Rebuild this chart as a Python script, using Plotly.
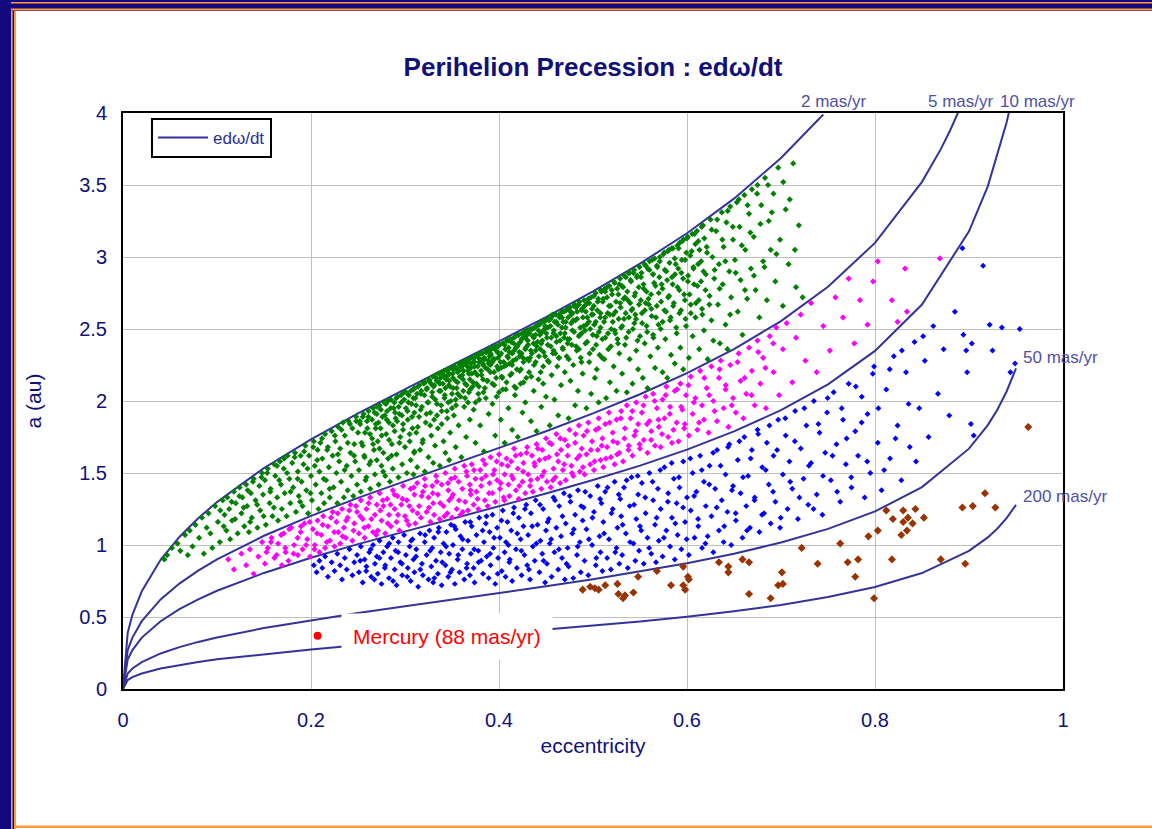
import plotly.graph_objects as go

# ---------------------------------------------------------------------------
# Contours of constant e*dω/dt (mas/yr): eccentricity vs semi-major axis (au)
# ---------------------------------------------------------------------------
e_2mas = [0, 0.005, 0.01, 0.02, 0.04, 0.06, 0.08, 0.1, 0.15, 0.2, 0.25, 0.3, 0.35, 0.4,
          0.45, 0.5, 0.55, 0.6, 0.65, 0.7, 0.745]
a_2mas = [0, 0.390, 0.515, 0.679, 0.897, 1.056, 1.186, 1.298, 1.535, 1.734, 1.914, 2.084,
          2.249, 2.414, 2.583, 2.762, 2.954, 3.165, 3.405, 3.687, 3.99]

e_5mas = [0, 0.005, 0.01, 0.02, 0.04, 0.06, 0.08, 0.1, 0.15, 0.2, 0.25, 0.3, 0.35, 0.4,
          0.45, 0.5, 0.55, 0.6, 0.65, 0.7, 0.75, 0.8, 0.85, 0.87, 0.88, 0.89]
a_5mas = [0, 0.270, 0.357, 0.471, 0.622, 0.732, 0.822, 0.900, 1.064, 1.202, 1.327, 1.444,
          1.558, 1.673, 1.790, 1.914, 2.047, 2.194, 2.360, 2.555, 2.793, 3.098, 3.522,
          3.749, 3.880, 4.027]

e_10mas = [0, 0.005, 0.01, 0.02, 0.04, 0.06, 0.08, 0.1, 0.15, 0.2, 0.25, 0.3, 0.35, 0.4,
           0.45, 0.5, 0.55, 0.6, 0.65, 0.7, 0.75, 0.8, 0.85, 0.9, 0.92, 0.94, 0.945]
a_10mas = [0, 0.205, 0.270, 0.357, 0.471, 0.554, 0.623, 0.682, 0.806, 0.911, 1.006, 1.094,
           1.181, 1.268, 1.357, 1.451, 1.551, 1.662, 1.789, 1.936, 2.116, 2.348, 2.670,
           3.178, 3.491, 3.934, 4.078]

e_50mas = [0, 0.005, 0.01, 0.02, 0.04, 0.06, 0.08, 0.1, 0.15, 0.2, 0.25, 0.3, 0.35, 0.4,
           0.45, 0.5, 0.55, 0.6, 0.65, 0.7, 0.75, 0.8, 0.85, 0.9, 0.92, 0.93, 0.94, 0.95]
a_50mas = [0, 0.108, 0.142, 0.187, 0.247, 0.291, 0.327, 0.358, 0.423, 0.478, 0.528, 0.575,
           0.620, 0.666, 0.713, 0.762, 0.815, 0.873, 0.939, 1.017, 1.112, 1.233, 1.402,
           1.669, 1.833, 1.938, 2.066, 2.227]

e_200mas = [0, 0.005, 0.01, 0.02, 0.04, 0.06, 0.08, 0.1, 0.15, 0.2, 0.25, 0.3, 0.35, 0.4,
            0.45, 0.5, 0.55, 0.6, 0.65, 0.7, 0.75, 0.8, 0.85, 0.9, 0.92, 0.93, 0.94, 0.95]
a_200mas = [0, 0.062, 0.082, 0.108, 0.142, 0.167, 0.188, 0.206, 0.243, 0.275, 0.303, 0.330,
            0.356, 0.383, 0.409, 0.438, 0.468, 0.502, 0.540, 0.584, 0.639, 0.708, 0.805,
            0.959, 1.053, 1.113, 1.187, 1.279]

contour_names = ["2 mas/yr", "5 mas/yr", "10 mas/yr", "50 mas/yr", "200 mas/yr"]

# ---------------------------------------------------------------------------
# Asteroids (e, a) grouped by precession rate band
# ---------------------------------------------------------------------------
green_2_5 = [
    (0.044, 0.90), (0.047, 0.93),
    (0.052, 0.98), (0.058, 1.01), (0.061, 0.96), (0.066, 1.07), (0.069, 0.93),
    (0.071, 1.10), (0.074, 0.99), (0.077, 1.14), (0.081, 1.05), (0.084, 1.19), (0.086, 0.94), (0.089, 1.12),
    (0.091, 1.22), (0.093, 1.08), (0.095, 0.98), (0.098, 1.27), (0.101, 1.16), (0.103, 1.02), (0.106, 1.31),
    (0.108, 1.21), (0.110, 1.10),
    (0.111, 1.33), (0.113, 1.25), (0.114, 1.04), (0.116, 1.17), (0.118, 1.37), (0.120, 1.29), (0.122, 1.08),
    (0.124, 1.40), (0.126, 1.22), (0.127, 1.33), (0.129, 1.13),
    (0.131, 1.42), (0.132, 1.27), (0.134, 1.09), (0.136, 1.36), (0.137, 1.19), (0.139, 1.46), (0.141, 1.31),
    (0.143, 1.12), (0.145, 1.41), (0.146, 1.24), (0.148, 1.50), (0.149, 1.35),
    (0.151, 1.45), (0.152, 1.14), (0.154, 1.53), (0.156, 1.29), (0.157, 1.39), (0.159, 1.20), (0.161, 1.56),
    (0.162, 1.48), (0.164, 1.33), (0.165, 1.17), (0.167, 1.58), (0.168, 1.42), (0.169, 1.25),
    (0.171, 1.53), (0.172, 1.36), (0.174, 1.20), (0.175, 1.62), (0.177, 1.46), (0.178, 1.29), (0.180, 1.57),
    (0.181, 1.40), (0.183, 1.64), (0.184, 1.23), (0.186, 1.51), (0.187, 1.34), (0.189, 1.62), (0.190, 1.44),
    (0.191, 1.27), (0.192, 1.56), (0.194, 1.69), (0.195, 1.38), (0.197, 1.22), (0.198, 1.62), (0.200, 1.48),
    (0.201, 1.31), (0.203, 1.72), (0.204, 1.55), (0.205, 1.42), (0.207, 1.66), (0.208, 1.25), (0.209, 1.51),
    (0.210, 1.71),
    (0.211, 1.36), (0.212, 1.60), (0.214, 1.29), (0.215, 1.77), (0.216, 1.45), (0.218, 1.68), (0.219, 1.54),
    (0.220, 1.33), (0.222, 1.79), (0.223, 1.62), (0.224, 1.40), (0.226, 1.72), (0.227, 1.50), (0.228, 1.29),
    (0.229, 1.82), (0.230, 1.58),
    (0.231, 1.67), (0.232, 1.44), (0.234, 1.85), (0.235, 1.33), (0.236, 1.76), (0.238, 1.55), (0.239, 1.38),
    (0.240, 1.86), (0.242, 1.64), (0.243, 1.48), (0.244, 1.81), (0.245, 1.34), (0.246, 1.70), (0.247, 1.58),
    (0.248, 1.89), (0.249, 1.42), (0.250, 1.78),
    (0.251, 1.52), (0.252, 1.86), (0.253, 1.37), (0.255, 1.69), (0.256, 1.91), (0.257, 1.61), (0.258, 1.45),
    (0.260, 1.81), (0.261, 1.89), (0.262, 1.56), (0.263, 1.39), (0.265, 1.74), (0.266, 1.95), (0.267, 1.66),
    (0.268, 1.49), (0.269, 1.84), (0.270, 1.59), (0.270, 1.91),
    (0.271, 1.72), (0.272, 1.42), (0.273, 1.97), (0.274, 1.81), (0.275, 1.55), (0.276, 1.89), (0.277, 1.64),
    (0.278, 1.99), (0.279, 1.48), (0.280, 1.77), (0.281, 1.93), (0.282, 1.60), (0.283, 1.85), (0.284, 1.44),
    (0.285, 2.01), (0.286, 1.70), (0.287, 1.53), (0.288, 1.95), (0.289, 1.79), (0.290, 1.88),
    (0.291, 1.63), (0.292, 2.03), (0.293, 1.47), (0.294, 1.91), (0.295, 1.75), (0.296, 1.99), (0.297, 1.56),
    (0.298, 1.84), (0.299, 2.06), (0.300, 1.68), (0.301, 1.95), (0.302, 1.50), (0.303, 1.87), (0.304, 2.04),
    (0.305, 1.72), (0.306, 1.59), (0.307, 1.98), (0.308, 1.81), (0.309, 2.08), (0.310, 1.65), (0.310, 1.92),
    (0.309, 1.49),
    (0.311, 2.02), (0.312, 1.78), (0.313, 1.54), (0.314, 2.10), (0.315, 1.89), (0.316, 1.66), (0.317, 2.05),
    (0.318, 1.96), (0.319, 1.73), (0.320, 2.12), (0.321, 1.51), (0.322, 1.85), (0.323, 2.08), (0.324, 1.99),
    (0.325, 1.61), (0.326, 2.14), (0.327, 1.92), (0.328, 1.76), (0.329, 2.03), (0.330, 1.57), (0.331, 2.11),
    (0.331, 1.87), (0.332, 1.69), (0.333, 2.16),
    (0.334, 1.98), (0.335, 1.81), (0.336, 2.13), (0.337, 1.55), (0.338, 2.07), (0.339, 1.93), (0.340, 2.19),
    (0.341, 1.72), (0.342, 2.02), (0.343, 1.64), (0.344, 2.15), (0.345, 1.88), (0.345, 2.21), (0.346, 1.99),
    (0.347, 1.59), (0.348, 2.10), (0.348, 1.78), (0.349, 2.23), (0.350, 1.95), (0.350, 2.05), (0.341, 2.17),
    (0.343, 2.09), (0.346, 2.18), (0.337, 2.12), (0.339, 1.84), (0.347, 2.14),
    (0.351, 2.16), (0.352, 1.90), (0.353, 2.24), (0.354, 1.68), (0.355, 2.09), (0.356, 2.20), (0.357, 1.83),
    (0.358, 2.25), (0.359, 2.03), (0.360, 1.61), (0.361, 2.18), (0.362, 2.25), (0.363, 1.96), (0.364, 2.12),
    (0.365, 1.75), (0.366, 2.27), (0.367, 2.21), (0.368, 2.06), (0.369, 1.87), (0.370, 2.26), (0.356, 2.13),
    (0.359, 2.22), (0.362, 2.07), (0.364, 2.26), (0.367, 1.99), (0.352, 2.22), (0.369, 2.15), (0.354, 2.01),
    (0.371, 2.19), (0.372, 2.30), (0.373, 1.94), (0.374, 2.24), (0.375, 1.71), (0.376, 2.12), (0.377, 2.31),
    (0.378, 2.05), (0.379, 2.27), (0.380, 1.83), (0.381, 2.21), (0.382, 2.33), (0.383, 2.15), (0.384, 1.65),
    (0.385, 2.29), (0.386, 2.02), (0.387, 2.34), (0.388, 2.22), (0.389, 1.91), (0.390, 2.31), (0.372, 2.10),
    (0.374, 2.30), (0.377, 2.18), (0.379, 2.01), (0.381, 2.28), (0.383, 2.25), (0.385, 2.09), (0.386, 2.34),
    (0.388, 2.14), (0.389, 2.26),
    (0.391, 2.20), (0.392, 2.36), (0.393, 1.98), (0.394, 2.29), (0.395, 2.11), (0.396, 1.76), (0.397, 2.35),
    (0.398, 2.24), (0.399, 2.38), (0.400, 2.06), (0.401, 2.32), (0.402, 1.87), (0.403, 2.17), (0.404, 2.40),
    (0.405, 2.27), (0.406, 1.71), (0.407, 2.36), (0.408, 2.13), (0.409, 2.31), (0.410, 2.42), (0.391, 2.33),
    (0.393, 2.27), (0.395, 2.37), (0.397, 2.16), (0.399, 2.30), (0.402, 2.23), (0.404, 2.08), (0.406, 2.39),
    (0.408, 2.25), (0.410, 1.95),
    (0.411, 2.34), (0.412, 2.18), (0.413, 2.41), (0.414, 1.80), (0.415, 2.28), (0.416, 2.44), (0.417, 2.04),
    (0.418, 2.37), (0.419, 2.22), (0.420, 1.75), (0.421, 2.46), (0.422, 2.31), (0.423, 2.12), (0.424, 2.43),
    (0.425, 1.92), (0.426, 2.27), (0.427, 2.48), (0.428, 2.36), (0.429, 2.16), (0.430, 2.46), (0.412, 2.43),
    (0.414, 2.25), (0.416, 2.35), (0.418, 2.09), (0.420, 2.39), (0.422, 2.21), (0.424, 2.33), (0.426, 2.44),
    (0.428, 1.99), (0.430, 2.29),
    (0.431, 2.39), (0.432, 2.20), (0.433, 2.50), (0.434, 1.86), (0.435, 2.33), (0.436, 2.45), (0.437, 2.07),
    (0.438, 2.51), (0.439, 2.27), (0.440, 1.79), (0.441, 2.41), (0.442, 2.15), (0.443, 2.53), (0.444, 2.36),
    (0.445, 1.96), (0.446, 2.48), (0.447, 2.24), (0.448, 2.55), (0.449, 2.31), (0.450, 2.03), (0.433, 2.30),
    (0.437, 2.44), (0.439, 2.35), (0.442, 2.49), (0.445, 2.40), (0.447, 2.12), (0.449, 2.52), (0.435, 2.50),
    (0.451, 2.44), (0.452, 2.28), (0.453, 2.56), (0.454, 1.83), (0.455, 2.38), (0.456, 2.18), (0.457, 2.60),
    (0.458, 2.47), (0.459, 2.01), (0.460, 2.33), (0.461, 2.55), (0.462, 2.24), (0.463, 1.90), (0.464, 2.60),
    (0.465, 2.42), (0.466, 2.11), (0.467, 2.51), (0.468, 2.36), (0.469, 2.62), (0.470, 2.20), (0.452, 2.51),
    (0.455, 2.57), (0.458, 2.35), (0.461, 2.45), (0.464, 2.30), (0.467, 2.58), (0.470, 2.47),
    (0.471, 2.55), (0.472, 2.31), (0.473, 2.64), (0.474, 1.88), (0.475, 2.43), (0.476, 2.14), (0.477, 2.60),
    (0.478, 2.49), (0.479, 2.25), (0.480, 2.66), (0.481, 1.97), (0.482, 2.38), (0.483, 2.57), (0.484, 2.07),
    (0.485, 2.67), (0.486, 2.46), (0.487, 2.30), (0.488, 2.63), (0.489, 2.19), (0.490, 2.52), (0.473, 2.40),
    (0.476, 2.62), (0.479, 2.56), (0.482, 2.65), (0.485, 2.36), (0.488, 2.47),
    (0.491, 2.66), (0.492, 2.40), (0.493, 1.95), (0.494, 2.58), (0.495, 2.71), (0.496, 2.27), (0.497, 2.50),
    (0.498, 2.05), (0.499, 2.64), (0.500, 2.36), (0.501, 2.73), (0.502, 2.16), (0.503, 2.55), (0.504, 2.45),
    (0.505, 2.69), (0.506, 1.99), (0.507, 2.32), (0.508, 2.61), (0.509, 2.76), (0.510, 2.43), (0.493, 2.53),
    (0.496, 2.68), (0.500, 2.60), (0.504, 2.22), (0.508, 2.51),
    (0.511, 2.71), (0.512, 2.29), (0.513, 2.58), (0.514, 2.02), (0.515, 2.79), (0.516, 2.47), (0.517, 2.66),
    (0.518, 2.13), (0.519, 2.38), (0.520, 2.77), (0.521, 2.55), (0.522, 2.24), (0.523, 2.82), (0.524, 2.62),
    (0.525, 2.07), (0.526, 2.43), (0.527, 2.74), (0.528, 2.33), (0.529, 2.68), (0.530, 2.51), (0.513, 2.76),
    (0.518, 2.60), (0.523, 2.49), (0.528, 2.81),
    (0.531, 2.19), (0.532, 2.79), (0.533, 2.57), (0.534, 2.39), (0.535, 2.86), (0.536, 2.06), (0.537, 2.70),
    (0.538, 2.48), (0.539, 2.29), (0.540, 2.84), (0.541, 2.63), (0.542, 2.12), (0.543, 2.89), (0.544, 2.54),
    (0.545, 2.75), (0.546, 2.35), (0.547, 2.87), (0.548, 2.22), (0.549, 2.67), (0.550, 2.45), (0.534, 2.72),
    (0.539, 2.89), (0.545, 2.60),
    (0.551, 2.86), (0.552, 2.61), (0.553, 2.16), (0.554, 2.78), (0.555, 2.40), (0.556, 2.94), (0.557, 2.52),
    (0.558, 2.09), (0.559, 2.71), (0.560, 2.91), (0.561, 2.31), (0.562, 2.64), (0.563, 2.98), (0.564, 2.46),
    (0.565, 2.82), (0.566, 2.23), (0.567, 2.58), (0.568, 2.94), (0.569, 2.37), (0.570, 2.75), (0.556, 2.68),
    (0.564, 2.88),
    (0.571, 2.97), (0.572, 2.50), (0.573, 2.81), (0.574, 2.20), (0.575, 3.02), (0.576, 2.63), (0.577, 2.43),
    (0.578, 2.90), (0.579, 2.16), (0.580, 2.72), (0.581, 3.05), (0.582, 2.56), (0.583, 2.32), (0.584, 2.86),
    (0.585, 3.06), (0.586, 2.68), (0.587, 2.26), (0.588, 2.95), (0.589, 2.47), (0.590, 2.79),
    (0.591, 3.06), (0.592, 2.61), (0.593, 2.37), (0.594, 2.89), (0.595, 3.11), (0.596, 2.22), (0.597, 2.74),
    (0.598, 2.98), (0.599, 2.52), (0.600, 3.13), (0.601, 2.83), (0.602, 2.30), (0.604, 2.67), (0.605, 3.04),
    (0.606, 2.45), (0.607, 2.92), (0.608, 3.16), (0.609, 2.58),
    (0.611, 2.80), (0.612, 3.11), (0.613, 2.36), (0.615, 2.97), (0.616, 2.64), (0.617, 3.22), (0.618, 2.49),
    (0.620, 2.88), (0.621, 3.07), (0.622, 2.29), (0.624, 2.73), (0.625, 3.26), (0.626, 2.56), (0.627, 3.00),
    (0.628, 2.42), (0.629, 2.85),
    (0.631, 3.18), (0.633, 2.67), (0.634, 2.95), (0.635, 2.40), (0.637, 3.31), (0.638, 2.81), (0.639, 3.07),
    (0.641, 2.53), (0.642, 3.24), (0.643, 2.36), (0.645, 2.90), (0.646, 3.35), (0.647, 2.72), (0.649, 3.12),
    (0.651, 2.98), (0.653, 3.38), (0.654, 2.62), (0.656, 3.21), (0.657, 2.84), (0.659, 2.46), (0.661, 3.43),
    (0.662, 3.05), (0.664, 2.71), (0.666, 3.30), (0.668, 2.92), (0.669, 3.47),
    (0.671, 3.14), (0.673, 2.77), (0.675, 3.50), (0.677, 2.58), (0.679, 3.36), (0.681, 2.97), (0.683, 3.55),
    (0.685, 2.70), (0.687, 3.25), (0.689, 3.05),
    (0.692, 3.44), (0.694, 2.83), (0.697, 3.62), (0.699, 3.12), (0.702, 2.66), (0.705, 3.33), (0.708, 2.95),
    (0.713, 3.65), (0.716, 2.79), (0.719, 3.22), (0.723, 2.72),
    # second catalogue pass
    (0.1035, 1.24), (0.1072, 1.13), (0.1156, 1.30), (0.1193, 1.18), (0.1238, 1.34), (0.1284, 1.26),
    (0.1327, 1.38), (0.1353, 1.16), (0.1382, 1.44), (0.1427, 1.28), (0.1473, 1.47), (0.1496, 1.20),
    (0.1534, 1.50), (0.1567, 1.37), (0.1605, 1.26), (0.1638, 1.55), (0.1662, 1.45), (0.1714, 1.60),
    (0.1745, 1.50), (0.1783, 1.37), (0.1826, 1.61), (0.1858, 1.46), (0.1884, 1.30), (0.1927, 1.65),
    (0.1963, 1.53), (0.1994, 1.36), (0.2023, 1.68), (0.2066, 1.59), (0.2117, 1.74), (0.2135, 1.46),
    (0.2172, 1.66), (0.2198, 1.39), (0.2254, 1.76), (0.2286, 1.63), (0.2324, 1.80), (0.2357, 1.52),
    (0.2391, 1.71), (0.2414, 1.84), (0.2458, 1.62), (0.2482, 1.86),
    (0.2523, 1.84), (0.2538, 1.71), (0.2551, 1.89), (0.2567, 1.62), (0.2574, 1.78), (0.2589, 1.47), (0.2596, 1.86),
    (0.2612, 1.93), (0.2627, 1.77), (0.2634, 1.58), (0.2649, 1.87), (0.2661, 1.70), (0.2676, 1.92), (0.2688, 1.81),
    (0.2705, 1.96), (0.2718, 1.85), (0.2729, 1.67), (0.2743, 1.94), (0.2752, 1.76), (0.2768, 1.51), (0.2784, 1.90),
    (0.2797, 1.98),
    (0.2806, 1.87), (0.2819, 2.00), (0.2831, 1.73), (0.2848, 1.95), (0.2857, 1.62), (0.2872, 1.83), (0.2886, 1.99),
    (0.2894, 1.92),
    (0.2908, 2.02), (0.2916, 1.86), (0.2933, 1.96), (0.2941, 1.71), (0.2958, 2.04), (0.2967, 1.90), (0.2979, 1.80),
    (0.2992, 2.01),
    (0.3014, 2.06), (0.3026, 1.93), (0.3037, 1.99), (0.3049, 1.77), (0.3063, 2.07), (0.3075, 1.89), (0.3088, 2.02),
    (0.3097, 1.64),
    (0.3104, 2.09), (0.3118, 1.97), (0.3129, 2.05), (0.3136, 1.82), (0.3152, 2.11), (0.3167, 1.94), (0.3173, 2.07),
    (0.3186, 1.71), (0.3195, 2.13),
    (0.3207, 2.04), (0.3214, 2.13), (0.3228, 1.91), (0.3235, 2.09), (0.3249, 1.99), (0.3256, 2.15), (0.3268, 1.83),
    (0.3277, 2.12), (0.3289, 2.06), (0.3298, 2.17),
    (0.3303, 2.10), (0.3316, 2.17), (0.3322, 2.01), (0.3337, 2.14), (0.3341, 1.90), (0.3358, 2.19), (0.3364, 2.07),
    (0.3379, 2.16), (0.3385, 1.97), (0.3396, 2.20),
    (0.3402, 2.12), (0.3415, 2.21), (0.3423, 2.04), (0.3431, 2.17), (0.3446, 1.93), (0.3454, 2.22), (0.3467, 2.11),
    (0.3472, 2.19), (0.3488, 2.00), (0.3494, 2.23),
    (0.3507, 2.19), (0.3512, 2.09), (0.3526, 2.24), (0.3538, 2.14), (0.3543, 1.97), (0.3559, 2.22), (0.3561, 2.05),
    (0.3577, 2.26), (0.3584, 2.17), (0.3598, 2.23),
    (0.3603, 2.27), (0.3618, 2.15), (0.3624, 2.21), (0.3639, 2.02), (0.3645, 2.28), (0.3656, 2.11), (0.3663, 2.24),
    (0.3679, 2.19), (0.3687, 2.29), (0.3694, 2.08),
    (0.3701, 2.23), (0.3716, 2.30), (0.3722, 2.13), (0.3738, 2.27), (0.3744, 2.20), (0.3751, 1.99), (0.3765, 2.32),
    (0.3773, 2.24), (0.3786, 2.10), (0.3797, 2.29),
    (0.3804, 2.33), (0.3813, 2.18), (0.3827, 2.26), (0.3835, 2.06), (0.3842, 2.30), (0.3858, 2.23), (0.3866, 2.35),
    (0.3871, 2.14), (0.3889, 2.28), (0.3896, 2.36),
    (0.3908, 2.25), (0.3914, 2.32), (0.3929, 2.12), (0.3936, 2.37), (0.3947, 2.20), (0.3953, 2.29), (0.3968, 2.38),
    (0.3975, 2.03), (0.3982, 2.34), (0.3991, 2.22),
    (0.4006, 2.39), (0.4017, 2.27), (0.4023, 2.33), (0.4034, 2.16), (0.4048, 2.40), (0.4053, 2.24), (0.4069, 2.36),
    (0.4072, 2.08), (0.4085, 2.42), (0.4097, 2.30),
    (0.4103, 2.37), (0.4112, 2.26), (0.4126, 2.43), (0.4134, 2.19), (0.4141, 2.33), (0.4157, 2.40), (0.4165, 2.10),
    (0.4178, 2.45), (0.4182, 2.29), (0.4196, 2.38),
    (0.4204, 2.46), (0.4215, 2.34), (0.4227, 2.41), (0.4233, 2.22), (0.4248, 2.47), (0.4256, 2.30), (0.4261, 2.13),
    (0.4277, 2.44), (0.4285, 2.37), (0.4299, 2.49),
    (0.4306, 2.42), (0.4318, 2.28), (0.4324, 2.47), (0.4339, 2.35), (0.4343, 2.17), (0.4357, 2.50), (0.4368, 2.40),
    (0.4372, 2.25), (0.4389, 2.46), (0.4394, 2.52),
    (0.4402, 2.38), (0.4417, 2.53), (0.4425, 2.31), (0.4436, 2.46), (0.4443, 2.20), (0.4458, 2.55), (0.4461, 2.42),
    (0.4474, 2.34), (0.4486, 2.50), (0.4498, 2.56),
    (0.4503, 2.47), (0.4519, 2.39), (0.4526, 2.57), (0.4531, 2.27), (0.4547, 2.52), (0.4555, 2.44), (0.4568, 2.59),
    (0.4574, 2.33), (0.4583, 2.49), (0.4591, 2.55),
    (0.4607, 2.60), (0.4612, 2.41), (0.4628, 2.53), (0.4636, 2.30), (0.4645, 2.58), (0.4653, 2.47), (0.4669, 2.62),
    (0.4677, 2.37), (0.4684, 2.55), (0.4692, 2.44),
    (0.4708, 2.51), (0.4714, 2.63), (0.4729, 2.43), (0.4736, 2.58), (0.4742, 2.29), (0.4757, 2.65), (0.4768, 2.54),
    (0.4775, 2.39), (0.4781, 2.61), (0.4799, 2.48),
    (0.4806, 2.67), (0.4813, 2.56), (0.4827, 2.35), (0.4832, 2.62), (0.4849, 2.45), (0.4854, 2.69), (0.4865, 2.51),
    (0.4878, 2.27), (0.4884, 2.64), (0.4893, 2.58),
    (0.4905, 2.70), (0.4916, 2.49), (0.4923, 2.62), (0.4938, 2.41), (0.4941, 2.68), (0.4957, 2.55), (0.4964, 2.33),
    (0.4979, 2.72), (0.4986, 2.60), (0.4998, 2.46),
    (0.5008, 2.66), (0.5013, 2.53), (0.5029, 2.75), (0.5034, 2.39), (0.5046, 2.63), (0.5057, 2.71), (0.5063, 2.48),
    (0.5078, 2.58), (0.5082, 2.77), (0.5097, 2.30),
    (0.5104, 2.69), (0.5117, 2.55), (0.5125, 2.78), (0.5131, 2.44), (0.5149, 2.72), (0.5156, 2.61), (0.5163, 2.36),
    (0.5174, 2.80), (0.5188, 2.66), (0.5193, 2.50),
    (0.5203, 2.74), (0.5216, 2.60), (0.5221, 2.83), (0.5238, 2.47), (0.5245, 2.69), (0.5257, 2.78), (0.5266, 2.40),
    (0.5273, 2.57), (0.5289, 2.85), (0.5294, 2.65),
    (0.5307, 2.80), (0.5311, 2.52), (0.5326, 2.71), (0.5334, 2.87), (0.5348, 2.61), (0.5353, 2.44), (0.5365, 2.76),
    (0.5378, 2.89), (0.5382, 2.58), (0.5396, 2.68),
    (0.5404, 2.83), (0.5419, 2.64), (0.5425, 2.50), (0.5437, 2.91), (0.5442, 2.73), (0.5458, 2.57), (0.5466, 2.86),
    (0.5474, 2.42), (0.5487, 2.79), (0.5495, 2.93),
    (0.5509, 2.70), (0.5516, 2.89), (0.5523, 2.54), (0.5537, 2.81), (0.5548, 2.95), (0.5552, 2.63), (0.5569, 2.76),
    (0.5576, 2.48), (0.5583, 2.92), (0.5594, 2.67),
    (0.5602, 2.97), (0.5618, 2.74), (0.5624, 2.59), (0.5637, 2.88), (0.5643, 2.44), (0.5656, 2.99), (0.5665, 2.80),
    (0.5679, 2.66), (0.5684, 2.93), (0.5697, 2.53),
    (0.5706, 2.86), (0.5712, 3.00), (0.5725, 2.69), (0.5739, 2.78), (0.5741, 2.55), (0.5758, 3.03), (0.5764, 2.91),
    (0.5777, 2.62), (0.5789, 2.84), (0.5795, 3.04),
    (0.5809, 2.73), (0.5814, 2.96), (0.5826, 2.58), (0.5838, 3.06), (0.5847, 2.81), (0.5853, 2.66), (0.5869, 2.99),
    (0.5872, 2.88), (0.5886, 2.51), (0.5898, 3.08),
    (0.5907, 2.92), (0.5918, 2.77), (0.5924, 3.10), (0.5936, 2.63), (0.5945, 2.98), (0.5959, 2.85), (0.5963, 3.12),
    (0.5978, 2.70), (0.5984, 2.57), (0.5993, 3.03),
    (0.6008, 3.14), (0.6012, 2.87), (0.6027, 2.74), (0.6035, 3.01), (0.6041, 2.61), (0.6056, 3.16), (0.6068, 2.93),
    (0.6074, 2.81), (0.6089, 3.09), (0.6095, 2.68),
    (0.6106, 3.18), (0.6118, 2.95), (0.6125, 2.70), (0.6133, 3.05), (0.6149, 2.83), (0.6157, 3.21), (0.6163, 2.60),
    (0.6176, 2.90), (0.6184, 3.13), (0.6197, 2.77),
    (0.6213, 3.03), (0.6238, 2.67), (0.6262, 3.19), (0.6294, 2.91), (0.6321, 3.26), (0.6347, 2.78), (0.6376, 3.12),
    (0.6408, 2.97), (0.6433, 3.32), (0.6459, 2.60), (0.6487, 3.21), (0.6518, 2.89), (0.6552, 3.40), (0.6583, 3.08),
    (0.6617, 2.77), (0.6645, 3.36), (0.6674, 3.17), (0.6712, 2.87), (0.6746, 3.44), (0.6781, 3.23), (0.6824, 2.93),
    (0.6862, 3.50), (0.6903, 3.31), (0.6951, 3.02), (0.7024, 3.52), (0.7093, 3.40), (0.7148, 3.05),
]

magenta_5_10 = [
    (0.112, 0.90), (0.118, 0.83), (0.126, 0.94),
    (0.131, 0.86), (0.135, 0.97), (0.139, 0.80), (0.144, 0.92), (0.148, 1.02),
    (0.151, 0.87), (0.154, 0.98), (0.158, 1.05), (0.161, 0.91), (0.165, 1.01), (0.169, 0.86),
    (0.171, 1.08), (0.173, 0.95), (0.176, 0.89), (0.179, 1.12), (0.182, 1.00), (0.186, 0.93), (0.189, 1.09),
    (0.191, 0.97), (0.193, 1.15), (0.196, 1.04), (0.199, 0.92), (0.202, 1.11), (0.204, 1.00), (0.207, 1.17),
    (0.209, 0.95),
    (0.211, 1.07), (0.213, 1.20), (0.215, 0.98), (0.218, 1.13), (0.220, 1.03), (0.223, 1.23), (0.225, 0.99),
    (0.227, 1.16), (0.229, 1.09),
    (0.231, 1.01), (0.233, 1.25), (0.235, 1.12), (0.237, 1.05), (0.239, 1.19), (0.242, 1.28), (0.244, 1.03),
    (0.246, 1.15), (0.249, 1.23),
    (0.251, 1.08), (0.253, 1.31), (0.255, 1.18), (0.257, 1.05), (0.259, 1.25), (0.261, 1.13), (0.263, 1.33),
    (0.266, 1.09), (0.268, 1.21), (0.270, 1.28),
    (0.271, 1.10), (0.273, 1.36), (0.275, 1.17), (0.277, 1.27), (0.279, 1.08), (0.281, 1.32), (0.283, 1.21),
    (0.285, 1.13), (0.287, 1.38), (0.289, 1.25),
    (0.291, 1.16), (0.292, 1.34), (0.294, 1.10), (0.296, 1.28), (0.298, 1.41), (0.300, 1.20), (0.302, 1.31),
    (0.304, 1.14), (0.306, 1.39), (0.308, 1.24), (0.310, 1.35),
    (0.311, 1.15), (0.313, 1.43), (0.315, 1.27), (0.317, 1.19), (0.319, 1.37), (0.321, 1.46), (0.323, 1.23),
    (0.325, 1.33), (0.327, 1.16), (0.329, 1.41), (0.330, 1.29),
    (0.331, 1.21), (0.333, 1.48), (0.335, 1.35), (0.337, 1.18), (0.339, 1.42), (0.341, 1.27), (0.343, 1.50),
    (0.345, 1.22), (0.346, 1.38), (0.347, 1.31), (0.349, 1.46), (0.350, 1.19),
    (0.351, 1.35), (0.353, 1.53), (0.355, 1.25), (0.357, 1.44), (0.359, 1.21), (0.361, 1.39), (0.363, 1.55),
    (0.364, 1.30), (0.366, 1.48), (0.367, 1.24), (0.369, 1.42), (0.370, 1.35),
    (0.371, 1.56), (0.373, 1.28), (0.375, 1.46), (0.376, 1.37), (0.378, 1.25), (0.380, 1.52), (0.381, 1.41),
    (0.383, 1.59), (0.385, 1.31), (0.386, 1.48), (0.388, 1.27), (0.390, 1.43),
    (0.391, 1.61), (0.393, 1.36), (0.395, 1.52), (0.396, 1.30), (0.398, 1.45), (0.400, 1.63), (0.401, 1.39),
    (0.403, 1.56), (0.405, 1.33), (0.406, 1.49), (0.408, 1.60), (0.410, 1.42),
    (0.411, 1.34), (0.413, 1.58), (0.415, 1.46), (0.416, 1.67), (0.418, 1.38), (0.420, 1.53), (0.421, 1.32),
    (0.423, 1.63), (0.425, 1.44), (0.426, 1.57), (0.428, 1.36), (0.430, 1.68),
    (0.431, 1.49), (0.433, 1.41), (0.435, 1.62), (0.436, 1.37), (0.438, 1.55), (0.440, 1.70), (0.441, 1.46),
    (0.443, 1.59), (0.445, 1.39), (0.446, 1.66), (0.448, 1.51), (0.450, 1.74),
    (0.451, 1.44), (0.453, 1.61), (0.455, 1.40), (0.456, 1.70), (0.458, 1.53), (0.460, 1.47), (0.461, 1.77),
    (0.463, 1.58), (0.465, 1.43), (0.466, 1.66), (0.468, 1.52), (0.470, 1.73),
    (0.471, 1.45), (0.473, 1.62), (0.475, 1.80), (0.477, 1.55), (0.479, 1.48), (0.481, 1.71), (0.483, 1.60),
    (0.485, 1.83), (0.486, 1.51), (0.488, 1.67), (0.490, 1.76),
    (0.491, 1.49), (0.493, 1.63), (0.495, 1.85), (0.497, 1.56), (0.499, 1.72), (0.501, 1.52), (0.503, 1.80),
    (0.505, 1.66), (0.506, 1.88), (0.508, 1.59), (0.510, 1.74),
    (0.511, 1.54), (0.513, 1.84), (0.515, 1.68), (0.517, 1.92), (0.519, 1.61), (0.521, 1.78), (0.523, 1.56),
    (0.525, 1.87), (0.526, 1.71), (0.528, 1.64), (0.530, 1.93),
    (0.532, 1.58), (0.534, 1.81), (0.536, 1.97), (0.538, 1.69), (0.540, 1.88), (0.542, 1.62), (0.544, 1.76),
    (0.546, 1.99), (0.548, 1.84), (0.550, 1.67),
    (0.552, 1.92), (0.554, 1.73), (0.556, 2.03), (0.558, 1.64), (0.560, 1.86), (0.562, 1.79), (0.564, 2.05),
    (0.566, 1.69), (0.568, 1.95), (0.570, 1.82),
    (0.572, 1.68), (0.574, 2.01), (0.576, 1.88), (0.578, 2.10), (0.580, 1.75), (0.582, 1.96), (0.584, 1.71),
    (0.587, 2.07), (0.589, 1.85),
    (0.591, 1.72), (0.593, 2.12), (0.595, 1.94), (0.597, 1.81), (0.599, 2.04), (0.602, 1.76), (0.604, 2.17),
    (0.606, 1.91), (0.609, 2.02),
    (0.611, 1.80), (0.614, 2.21), (0.616, 1.97), (0.618, 1.87), (0.621, 2.09), (0.623, 1.78), (0.626, 2.24),
    (0.628, 2.00),
    (0.632, 1.86), (0.634, 2.16), (0.636, 2.28), (0.639, 1.95), (0.641, 2.08), (0.644, 1.82), (0.646, 2.25),
    (0.649, 2.02),
    (0.652, 1.92), (0.655, 2.33), (0.657, 2.14), (0.660, 1.88), (0.663, 2.05), (0.666, 2.37), (0.669, 2.21),
    (0.672, 1.97), (0.675, 2.42), (0.678, 2.12), (0.681, 2.30), (0.684, 1.95), (0.688, 2.45),
    (0.692, 2.20), (0.695, 2.51), (0.698, 2.04), (0.702, 2.36), (0.706, 2.54),
    (0.712, 2.13), (0.716, 2.44), (0.721, 2.60), (0.726, 2.28),
    (0.732, 2.68), (0.738, 2.20), (0.745, 2.52),
    (0.752, 2.35), (0.758, 2.72), (0.766, 2.58),
    (0.772, 2.85), (0.778, 2.40), (0.784, 2.70),
    (0.792, 2.53), (0.798, 2.83), (0.803, 2.97),
    (0.818, 2.70), (0.824, 2.55),
    (0.832, 2.92), (0.834, 2.62),
    (0.869, 2.99),
    # second catalogue pass
    (0.1527, 0.95), (0.1574, 1.02), (0.1633, 0.93), (0.1682, 1.07), (0.1726, 0.98), (0.1769, 1.11),
    (0.1814, 0.94), (0.1857, 1.05), (0.1893, 1.13), (0.1948, 1.00), (0.1986, 1.16), (0.2037, 0.97),
    (0.2065, 1.08), (0.2124, 1.14), (0.2168, 1.02), (0.2213, 1.19), (0.2247, 1.09), (0.2284, 1.22),
    (0.2336, 1.06), (0.2374, 1.17), (0.2407, 1.24), (0.2452, 1.10), (0.2478, 1.27), (0.2523, 1.20),
    (0.2568, 1.12), (0.2613, 1.29), (0.2642, 1.18), (0.2694, 1.07), (0.2738, 1.24), (0.2763, 1.31),
    (0.2817, 1.15), (0.2846, 1.28), (0.2888, 1.35), (0.2925, 1.21), (0.2973, 1.32), (0.3018, 1.17),
    (0.3046, 1.27), (0.3093, 1.40), (0.3132, 1.22), (0.3177, 1.34), (0.3214, 1.41), (0.3255, 1.26),
    (0.3296, 1.36), (0.3338, 1.44), (0.3374, 1.29), (0.3419, 1.20), (0.3457, 1.43), (0.3496, 1.33),
    (0.3532, 1.47), (0.3575, 1.31), (0.3614, 1.23), (0.3653, 1.51), (0.3697, 1.38), (0.3734, 1.52),
    (0.3772, 1.32), (0.3817, 1.46), (0.3852, 1.56), (0.3894, 1.36), (0.3937, 1.49), (0.3975, 1.58),
    (0.4018, 1.43), (0.4057, 1.31), (0.4093, 1.55), (0.4136, 1.48), (0.4178, 1.62), (0.4216, 1.41),
    (0.4257, 1.51), (0.4294, 1.64), (0.4338, 1.45), (0.4376, 1.57), (0.4413, 1.67), (0.4457, 1.48),
    (0.4492, 1.60), (0.4536, 1.71), (0.4573, 1.45), (0.4618, 1.63), (0.4652, 1.74), (0.4694, 1.56),
    (0.4733, 1.69), (0.4776, 1.50), (0.4814, 1.77), (0.4857, 1.62), (0.4893, 1.54), (0.4936, 1.79),
    (0.4977, 1.66), (0.5016, 1.58), (0.5058, 1.81), (0.5093, 1.69), (0.5137, 1.60), (0.5176, 1.85),
    (0.5214, 1.72), (0.5257, 1.63), (0.5296, 1.88), (0.5334, 1.74), (0.5377, 1.66), (0.5418, 1.93),
    (0.5455, 1.79), (0.5496, 1.70), (0.5537, 1.97), (0.5574, 1.84), (0.5618, 1.73), (0.5655, 2.00),
    (0.5696, 1.87), (0.5734, 1.77), (0.5773, 2.04), (0.5817, 1.91), (0.5856, 1.80), (0.5894, 2.08),
    (0.5938, 1.96), (0.5977, 1.84), (0.6016, 2.11), (0.6073, 1.99), (0.6128, 1.85), (0.6184, 2.16),
    (0.6236, 2.04), (0.6293, 1.93), (0.6347, 2.22), (0.6412, 2.11), (0.6476, 1.97), (0.6538, 2.27),
    (0.6613, 2.16), (0.6687, 2.04), (0.6758, 2.34), (0.6834, 2.23), (0.6917, 2.40),
]

blue_10_50 = [
    (0.203, 0.86), (0.206, 0.81), (0.209, 0.89),
    (0.212, 0.84), (0.215, 0.92), (0.218, 0.78), (0.222, 0.88), (0.225, 0.82), (0.228, 0.94),
    (0.231, 0.86), (0.233, 0.76), (0.236, 0.91), (0.238, 0.83), (0.241, 0.97), (0.244, 0.79), (0.246, 0.88),
    (0.249, 0.93),
    (0.251, 0.81), (0.253, 0.99), (0.255, 0.74), (0.257, 0.90), (0.259, 0.85), (0.262, 0.95), (0.264, 0.78),
    (0.266, 1.00), (0.268, 0.87), (0.270, 0.92),
    (0.271, 0.80), (0.273, 1.03), (0.275, 0.73), (0.277, 0.95), (0.279, 0.86), (0.281, 0.99), (0.283, 0.77),
    (0.285, 0.91), (0.287, 1.05), (0.289, 0.83), (0.290, 0.96),
    (0.291, 0.72), (0.293, 1.02), (0.295, 0.88), (0.297, 0.79), (0.299, 1.07), (0.301, 0.93), (0.303, 0.84),
    (0.305, 0.99), (0.306, 0.75), (0.308, 1.04), (0.309, 0.90), (0.310, 0.81),
    (0.312, 0.97), (0.314, 0.71), (0.316, 1.08), (0.318, 0.87), (0.319, 0.79), (0.321, 1.02), (0.323, 0.93),
    (0.325, 0.76), (0.326, 1.10), (0.328, 0.85), (0.329, 0.98), (0.330, 0.74),
    (0.331, 1.05), (0.333, 0.89), (0.335, 0.80), (0.336, 1.12), (0.338, 0.95), (0.339, 0.72), (0.341, 1.01),
    (0.343, 0.86), (0.344, 1.09), (0.346, 0.78), (0.347, 0.94), (0.349, 1.14), (0.350, 0.83),
    (0.351, 1.00), (0.353, 0.73), (0.354, 1.11), (0.356, 0.90), (0.358, 0.81), (0.359, 1.06), (0.361, 0.97),
    (0.363, 0.76), (0.364, 1.16), (0.366, 0.87), (0.367, 1.03), (0.369, 0.79), (0.370, 0.94),
    (0.371, 1.13), (0.373, 0.84), (0.374, 0.74), (0.376, 1.07), (0.378, 0.96), (0.379, 1.19), (0.381, 0.89),
    (0.383, 0.80), (0.384, 1.02), (0.386, 1.15), (0.387, 0.92), (0.389, 0.77), (0.390, 1.09),
    (0.391, 0.86), (0.393, 1.21), (0.394, 0.98), (0.396, 0.73), (0.398, 1.12), (0.399, 0.91), (0.401, 1.05),
    (0.403, 0.82), (0.404, 1.24), (0.406, 0.95), (0.407, 0.78), (0.409, 1.16), (0.410, 1.00),
    (0.411, 0.88), (0.413, 1.10), (0.414, 0.75), (0.416, 1.26), (0.418, 0.97), (0.419, 0.84), (0.421, 1.19),
    (0.423, 1.04), (0.424, 0.79), (0.426, 1.13), (0.427, 0.93), (0.429, 1.28), (0.430, 0.86),
    (0.431, 1.07), (0.433, 0.76), (0.434, 1.22), (0.436, 0.99), (0.438, 0.89), (0.439, 1.31), (0.441, 1.14),
    (0.443, 0.81), (0.444, 1.03), (0.446, 0.94), (0.447, 1.25), (0.449, 0.74), (0.450, 1.10),
    (0.451, 0.87), (0.453, 1.18), (0.454, 1.01), (0.456, 0.78), (0.458, 1.33), (0.459, 0.95), (0.461, 1.12),
    (0.463, 0.83), (0.464, 1.27), (0.466, 1.06), (0.467, 0.91), (0.469, 1.36), (0.470, 0.76),
    (0.471, 1.15), (0.473, 0.98), (0.474, 0.85), (0.476, 1.30), (0.478, 1.08), (0.479, 0.77), (0.481, 1.21),
    (0.483, 0.93), (0.484, 1.38), (0.486, 1.02), (0.487, 0.81), (0.489, 1.17), (0.490, 1.26),
    (0.491, 0.89), (0.493, 1.11), (0.495, 0.79), (0.497, 1.34), (0.499, 1.00), (0.501, 1.23), (0.503, 0.86),
    (0.505, 1.41), (0.507, 1.06), (0.508, 0.95), (0.509, 1.29), (0.510, 0.82),
    (0.511, 1.16), (0.513, 1.37), (0.515, 0.91), (0.517, 1.04), (0.519, 0.83), (0.521, 1.25), (0.523, 1.44),
    (0.525, 0.98), (0.526, 1.12), (0.528, 0.87), (0.529, 1.32), (0.530, 1.20),
    (0.531, 0.93), (0.533, 1.40), (0.535, 1.08), (0.537, 0.84), (0.539, 1.27), (0.541, 1.47), (0.543, 1.01),
    (0.545, 0.89), (0.546, 1.18), (0.548, 1.35), (0.549, 0.96), (0.550, 1.13),
    (0.552, 1.43), (0.554, 0.87), (0.556, 1.22), (0.558, 1.05), (0.560, 1.50), (0.562, 0.94), (0.564, 1.31),
    (0.566, 1.14), (0.567, 0.88), (0.569, 1.39), (0.570, 1.03),
    (0.572, 1.25), (0.574, 0.92), (0.576, 1.54), (0.578, 1.10), (0.580, 1.36), (0.582, 0.99), (0.584, 1.19),
    (0.586, 1.46), (0.587, 0.90), (0.589, 1.29), (0.590, 1.07),
    (0.592, 1.40), (0.594, 0.97), (0.596, 1.58), (0.598, 1.16), (0.600, 1.33), (0.602, 0.93), (0.604, 1.24),
    (0.606, 1.50), (0.608, 1.05), (0.610, 1.37),
    (0.612, 1.13), (0.614, 1.62), (0.616, 0.98), (0.618, 1.44), (0.620, 1.27), (0.622, 1.06), (0.624, 1.55),
    (0.626, 1.20), (0.628, 0.95), (0.630, 1.39),
    (0.632, 1.66), (0.634, 1.10), (0.637, 1.31), (0.639, 1.02), (0.641, 1.49), (0.643, 1.23), (0.645, 1.70),
    (0.647, 1.00), (0.649, 1.41),
    (0.652, 1.17), (0.654, 1.59), (0.657, 1.36), (0.659, 1.05), (0.661, 1.75), (0.663, 1.27), (0.665, 1.48),
    (0.667, 1.12), (0.669, 1.66),
    (0.672, 1.33), (0.675, 1.80), (0.677, 1.09), (0.680, 1.54), (0.682, 1.22), (0.685, 1.71), (0.687, 1.42),
    (0.689, 1.15),
    (0.692, 1.62), (0.694, 1.30), (0.697, 1.87), (0.699, 1.12), (0.702, 1.49), (0.705, 1.76), (0.707, 1.25),
    (0.709, 1.58),
    (0.712, 1.39), (0.715, 1.93), (0.718, 1.18), (0.721, 1.67), (0.724, 1.46), (0.727, 1.83), (0.729, 1.28),
    (0.732, 1.57), (0.735, 2.00), (0.738, 1.35), (0.741, 1.78), (0.744, 1.21), (0.747, 1.64), (0.749, 1.92),
    (0.753, 1.45), (0.756, 2.06), (0.759, 1.70), (0.763, 1.30), (0.766, 1.87), (0.769, 1.56),
    (0.772, 2.12), (0.775, 1.40), (0.779, 1.79), (0.782, 1.62), (0.786, 2.03), (0.789, 1.33),
    (0.792, 1.91), (0.795, 1.50), (0.799, 2.24), (0.803, 1.71), (0.807, 1.38),
    (0.812, 2.08), (0.816, 1.60), (0.820, 2.31), (0.824, 1.83), (0.828, 1.45),
    (0.833, 2.20), (0.837, 1.68), (0.842, 2.41), (0.847, 1.95),
    (0.853, 2.28), (0.857, 1.75), (0.862, 2.52), (0.867, 2.05),
    (0.873, 2.36), (0.879, 1.90), (0.885, 2.62),
    (0.893, 3.06), (0.898, 2.20), (0.905, 1.76),
    (0.894, 2.46), (0.903, 2.40), (0.897, 2.35), (0.902, 1.84),
    (0.915, 2.94), (0.925, 2.35), (0.922, 2.53),
    (0.935, 2.51), (0.944, 2.20), (0.949, 2.26),
    (0.954, 2.50),
    # second catalogue pass
    (0.2524, 0.89), (0.2587, 0.82), (0.2636, 0.97), (0.2673, 0.76), (0.2728, 0.91), (0.2786, 0.84),
    (0.2832, 1.01), (0.2873, 0.75), (0.2927, 0.95), (0.2968, 0.87), (0.3024, 0.78), (0.3065, 1.03),
    (0.3117, 0.92), (0.3163, 0.83), (0.3214, 1.07), (0.3267, 0.96), (0.3312, 0.77), (0.3354, 1.09),
    (0.3396, 0.88), (0.3437, 0.99), (0.3483, 0.81), (0.3524, 1.13), (0.3566, 0.93), (0.3613, 1.04),
    (0.3655, 0.84), (0.3694, 1.16), (0.3736, 0.97), (0.3782, 0.88), (0.3825, 1.10), (0.3867, 1.20),
    (0.3905, 0.94), (0.3948, 1.05), (0.3986, 0.80), (0.4026, 1.17), (0.4074, 1.02), (0.4115, 0.90),
    (0.4152, 1.22), (0.4194, 1.08), (0.4238, 0.96), (0.4276, 1.25), (0.4318, 0.83), (0.4353, 1.13),
    (0.4397, 1.01), (0.4436, 1.28), (0.4474, 0.89), (0.4517, 1.16), (0.4555, 1.04), (0.4596, 1.31),
    (0.4637, 0.97), (0.4675, 1.20), (0.4718, 0.87), (0.4753, 1.34), (0.4796, 1.11), (0.4837, 0.99),
    (0.4874, 1.27), (0.4917, 1.37), (0.4956, 1.04), (0.4994, 1.19), (0.5035, 0.91), (0.5076, 1.32),
    (0.5118, 1.08), (0.5154, 1.40), (0.5196, 1.22), (0.5237, 0.95), (0.5274, 1.35), (0.5315, 1.14),
    (0.5358, 1.45), (0.5394, 1.02), (0.5437, 1.28), (0.5475, 1.48), (0.5513, 1.10), (0.5556, 1.33),
    (0.5597, 0.98), (0.5634, 1.44), (0.5677, 1.19), (0.5715, 1.52), (0.5754, 1.05), (0.5796, 1.30),
    (0.5837, 1.57), (0.5876, 1.15), (0.5915, 1.47), (0.5958, 1.26), (0.5996, 1.04), (0.6035, 1.60),
    (0.6076, 1.34), (0.6118, 1.18), (0.6157, 1.52), (0.6196, 1.01), (0.6237, 1.42), (0.6278, 1.64),
    (0.6316, 1.26), (0.6357, 1.55), (0.6396, 1.13), (0.6437, 1.68), (0.6478, 1.38), (0.6518, 1.22),
    (0.6557, 1.72), (0.6596, 1.47), (0.6638, 1.10), (0.6677, 1.60), (0.6718, 1.31), (0.6757, 1.77),
    (0.6798, 1.21), (0.6838, 1.52), (0.6877, 1.83), (0.6916, 1.37), (0.6958, 1.66), (0.6997, 1.19),
    (0.7046, 1.88), (0.7098, 1.44), (0.7147, 1.72), (0.7196, 1.33), (0.7248, 1.95), (0.7297, 1.55),
    (0.7346, 1.25), (0.7398, 1.84), (0.7447, 1.48), (0.7496, 2.02), (0.7548, 1.62), (0.7597, 1.37),
    (0.7646, 1.95), (0.7698, 1.74), (0.7747, 1.47), (0.7796, 2.10), (0.7858, 1.85), (0.7917, 1.58),
    (0.7976, 2.19), (0.8036, 1.95), (0.8097, 1.52), (0.8157, 2.22), (0.8218, 1.74), (0.8286, 2.35),
    (0.8357, 1.98), (0.8436, 1.58), (0.8512, 2.45),
]

brown_50_200 = [
    (0.917, 1.36), (0.893, 1.26), (0.904, 1.27), (0.928, 1.26), (0.812, 1.24), (0.830, 1.24), (0.843, 1.25),
    (0.819, 1.18), (0.830, 1.16), (0.835, 1.19), (0.840, 1.15), (0.852, 1.19), (0.803, 1.10), (0.828, 1.07),
    (0.834, 1.10), (0.793, 1.06), (0.763, 1.01), (0.722, 0.98), (0.818, 0.90), (0.870, 0.90), (0.896, 0.87),
    (0.782, 0.90), (0.771, 0.88), (0.739, 0.87), (0.779, 0.78), (0.701, 0.81), (0.702, 0.73), (0.697, 0.72),
    (0.666, 0.66), (0.689, 0.63), (0.799, 0.63), (0.659, 0.90), (0.666, 0.88), (0.644, 0.85), (0.644, 0.81),
    (0.634, 0.88), (0.596, 0.85), (0.601, 0.78), (0.602, 0.76), (0.596, 0.72), (0.598, 0.69), (0.583, 0.72),
    (0.568, 0.82), (0.548, 0.78), (0.526, 0.73), (0.513, 0.72), (0.506, 0.69), (0.502, 0.70), (0.497, 0.71),
    (0.489, 0.69), (0.527, 0.66), (0.534, 0.65), (0.532, 0.63), (0.543, 0.67), (0.963, 1.82),
]

mercury_e = [0.207]
mercury_a = [0.37]
mercury_label = "Mercury (88 mas/yr)"

# ---------------------------------------------------------------------------
# Styling
# ---------------------------------------------------------------------------
NAVY = "#10107A"
CURVE = "#333399"
LABEL = "#5050A6"
FONT = "Liberation Sans, Arial, sans-serif"

W, H = 1152, 829
L, R, T, B = 123, 89, 113, 140
PW, PH = W - L - R, H - T - B


def px_x(p):
    return (p - L) / PW


def px_y(p):
    return (H - B - p) / PH


fig = go.Figure()

curves = [(e_2mas, a_2mas), (e_5mas, a_5mas), (e_10mas, a_10mas),
          (e_50mas, a_50mas), (e_200mas, a_200mas)]
for i, (ex, ay) in enumerate(curves):
    fig.add_trace(go.Scatter(
        x=ex, y=ay, mode="lines", name="edω/dt",
        legendgroup="edw", showlegend=(i == 0),
        line=dict(color=CURVE, width=2), hoverinfo="skip"))


def add_group(points, color, size):
    fig.add_trace(go.Scatter(
        x=[p[0] for p in points], y=[p[1] for p in points], mode="markers",
        marker=dict(symbol="diamond", size=size, color=color, line=dict(width=0)),
        showlegend=False, hoverinfo="skip"))


add_group(green_2_5, "#008000", 4.8)
add_group(magenta_5_10, "#FF00FF", 4.8)
add_group(blue_10_50, "#0000FF", 4.6)
add_group(brown_50_200, "#993300", 6.2)

fig.add_trace(go.Scatter(
    x=mercury_e, y=mercury_a, mode="markers",
    marker=dict(symbol="circle", size=8, color="#FF0000"),
    showlegend=False, hoverinfo="skip"))

annotations = []
# contour labels
label_pos = [(799, 102), (926, 102), (998, 102), (1021, 357), (1021, 496)]
for name, (lx, ly) in zip(contour_names, label_pos):
    annotations.append(dict(
        x=px_x(lx), y=px_y(ly), xref="paper", yref="paper", text=name,
        showarrow=False, xanchor="left", yanchor="middle",
        font=dict(family=FONT, size=17, color=LABEL)))

# Mercury label in a white box
annotations.append(dict(
    x=px_x(447), y=px_y(636), xref="paper", yref="paper", text=mercury_label,
    showarrow=False, xanchor="center", yanchor="middle", bgcolor="white",
    borderpad=11, font=dict(family=FONT, size=21, color="#FF0000")))

# page frame stripes
ORANGE = "#FF9A3C"
FRAME = "#14087E"
shapes = []


def rect(x0, y0, x1, y1, color):
    shapes.append(dict(type="rect", xref="paper", yref="paper",
                       x0=px_x(x0), x1=px_x(x1), y0=px_y(y1), y1=px_y(y0),
                       fillcolor=color, line=dict(width=0), layer="above"))


rect(0, 0, W, 11, FRAME)
rect(0, 0, 11, H, FRAME)
rect(11, 2, W, 3.5, ORANGE)
rect(11, 8.5, W, 10.5, ORANGE)
rect(11, 11, 12.5, H, ORANGE)
rect(14, 11, 16, H, ORANGE)
rect(12.5, 11, 14, H, FRAME)
rect(14, 825.5, W, 828, ORANGE)

fig.update_layout(
    width=W, height=H, autosize=False,
    margin=dict(l=L, r=R, t=T, b=B, pad=0),
    paper_bgcolor="white", plot_bgcolor="white",
    title=dict(text="<b>Perihelion Precession : edω/dt</b>",
               x=0.5, xref="paper", y=1 - 67 / H, yref="container",
               xanchor="center", yanchor="middle",
               font=dict(family=FONT, size=26, color=NAVY)),
    xaxis=dict(range=[0, 1], tick0=0, dtick=0.2, showgrid=True, gridcolor="#C0C0C0",
               gridwidth=1, zeroline=False, showline=True, linecolor="black",
               linewidth=2, mirror=True, ticks="", ticklabelstandoff=12,
               tickfont=dict(family=FONT, size=20, color=NAVY),
               title=dict(text="eccentricity", standoff=8,
                          font=dict(family=FONT, size=21, color=NAVY))),
    yaxis=dict(range=[0, 4], tick0=0, dtick=0.5, showgrid=True, gridcolor="#C0C0C0",
               gridwidth=1, zeroline=False, showline=True, linecolor="black",
               linewidth=2, mirror=True, ticks="", ticklabelstandoff=10,
               tickfont=dict(family=FONT, size=20, color=NAVY),
               title=dict(text="a (au)", standoff=32,
                          font=dict(family=FONT, size=21, color=NAVY))),
    legend=dict(x=px_x(151), y=px_y(118), xanchor="left", yanchor="top",
                bgcolor="white", bordercolor="black", borderwidth=2,
                font=dict(family=FONT, size=17, color="#2E2E99"),
                itemwidth=50),
    annotations=annotations,
    shapes=shapes,
    showlegend=True,
)

fig.write_html("out.html")
